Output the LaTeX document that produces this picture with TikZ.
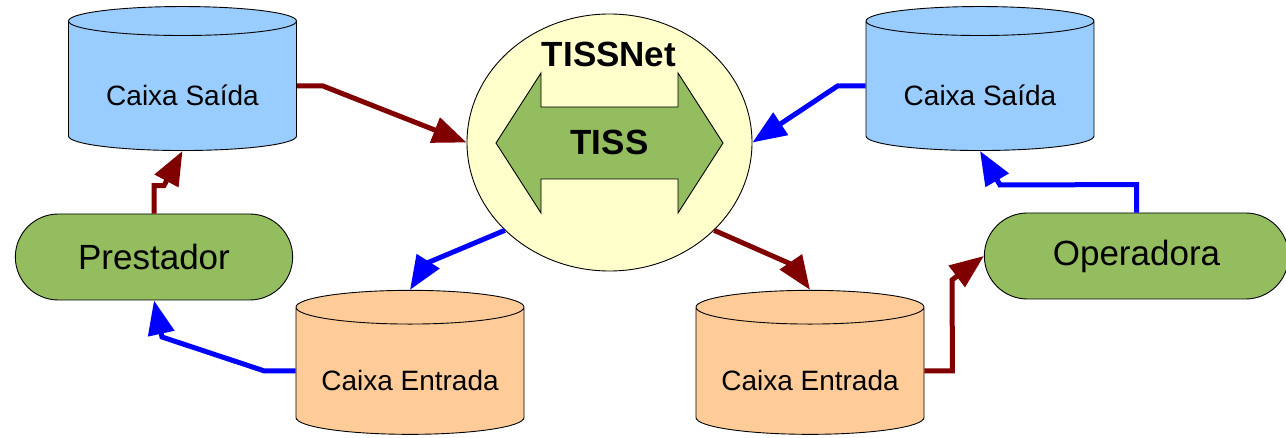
\documentclass[tikz,border=0pt]{standalone}
\usepackage{fontspec}
\setmainfont{Liberation Sans}
\usetikzlibrary{shapes.geometric,shapes.misc,arrows.meta}

\definecolor{wine}{HTML}{800000}
\definecolor{outfill}{HTML}{99CCFF}
\definecolor{infill}{HTML}{FFCC99}
\definecolor{leaf}{HTML}{93BD5E}
\definecolor{hubfill}{HTML}{FFFFCC}

\tikzstyle{tank}=[cylinder, shape border rotate=90, draw, line width=0.9pt, aspect=0.19,
  minimum width=228pt, minimum height=144pt, inner sep=0pt,
  text height=45pt, text depth=6pt,
  font=\fontsize{28}{34}\selectfont]
\tikzstyle{actor}=[rounded rectangle, draw, line width=0.9pt, fill=leaf,
  minimum height=86pt, font=\fontsize{35}{42}\selectfont]
\tikzstyle{flow}=[line width=5pt, -{Triangle[length=34pt,width=26pt]}]

\begin{document}
\begin{tikzpicture}[x=1pt, y=-1pt]
    \useasboundingbox (0,0) rectangle (1286,438);

    % hub
    \path (609.5,142.5) node[ellipse, draw, line width=0.9pt, fill=hubfill,
      minimum width=285pt, minimum height=257pt] (tissnet) {};
    \filldraw[fill=leaf, line width=0.9pt]
      (496,143) -- (541,73) -- (541,107) -- (678,107) -- (678,73) -- (723,143)
      -- (678,213) -- (678,179) -- (541,179) -- (541,213) -- cycle;
    \path (609,54) node[font=\fontsize{35}{42}\selectfont\bfseries] (net) {TISSNet};
    \path (609.5,142.5) node[font=\fontsize{35}{42}\selectfont\bfseries] (tiss) {TISS};

    % mailboxes
    \path (182.5,86) node[tank, fill=outfill] (saidaP) {Caixa Saída};
    \path (980,86) node[tank, fill=outfill] (saidaO) {Caixa Saída};
    \path (410,371) node[tank, fill=infill] (entradaP) {Caixa Entrada};
    \path (810,371) node[tank, fill=infill] (entradaO) {Caixa Entrada};

    % parties
    \path (154,257) node[actor, minimum width=284pt] (prest) {Prestador};
    \path (1136.5,256) node[actor, minimum width=311pt] (oper) {Operadora};

    \draw[flow, wine] (saidaP.east) -- ++(26,0) -- (tissnet.west);
    \draw[flow, blue] (saidaO.west) -- ++(-28,0) -- (tissnet.east);
    \draw[flow, wine] (prest.north) -- ++(0,-28) -- ++(10,0) -- (saidaP.south);
    \draw[flow, blue] (oper.north) -- ++(0,-28) -- (1000,185) -- (saidaO.south);
    \draw[flow, blue] (tissnet.220) -- (427,263) -- (entradaP.north);
    \draw[flow, wine] (tissnet.-40) -- (793,265) -- (entradaO.north);
    \draw[flow, blue] (entradaP.west) -- ++(-31,0) -- (162,337) -- (prest.south);
    \draw[flow, wine] (entradaO.east) -- ++(28,0) -- (952,280) -- (oper.west);
\end{tikzpicture}
\end{document}
